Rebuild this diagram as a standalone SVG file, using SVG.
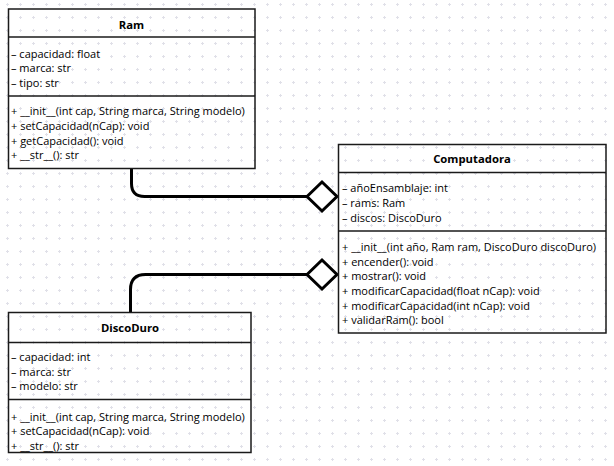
<svg xmlns="http://www.w3.org/2000/svg" width="614" height="466" viewBox="0 0 614 466">
  <defs>
    <pattern id="grid" patternUnits="userSpaceOnUse" x="0" y="0" width="13" height="13">
      <path d="M6 4.5h3M7.5 3v3" stroke="#e0e0e8" stroke-width="1"/>
    </pattern>
    <style>
      .box { fill: none; stroke: #1a1a1a; stroke-width: 1.5; }
      .sep { stroke: #1a1a1a; stroke-width: 1.5; }
      .title { font-family: "Open Sans", "Noto Sans", sans-serif; font-size: 11.3px; font-weight: bold; fill: #000; text-anchor: middle; dominant-baseline: central; }
      .member { font-family: "Open Sans", "Noto Sans", sans-serif; font-size: 11px; fill: #000; dominant-baseline: central; }
      .link { fill: none; stroke: #000; stroke-width: 3; }
      .diamond { fill: #fff; stroke: #000; stroke-width: 3; stroke-linejoin: miter; }
    </style>
  </defs>

  <rect width="614" height="466" fill="#fff"/>
  <rect width="614" height="466" fill="url(#grid)"/>

  <!-- aggregation connectors -->
  <g id="connectors">
    <path class="link" d="M131.5 168.5V183.5Q131.5 196.5 144.5 196.5H307"/>
    <polygon class="diamond" points="307,196.5 322,182 337,196.5 322,211"/>
    <path class="link" d="M130.5 312.5V289.5Q130.5 274.5 145.5 274.5H307"/>
    <polygon class="diamond" points="307,274.5 322,260 337,274.5 322,289"/>
  </g>

  <g id="ram">
    <rect class="box" x="8.5" y="9" width="246.5" height="159.5"/>
    <line class="sep" x1="8.5" y1="37" x2="255" y2="37"/>
    <line class="sep" x1="8.5" y1="96" x2="255" y2="96"/>
    <text class="title" x="131.5" y="24">Ram</text>
    <text class="member" x="11" y="53">– capacidad: float</text>
    <text class="member" x="11" y="67.5">– marca: str</text>
    <text class="member" x="11" y="82">– tipo: str</text>
    <text class="member" x="11" y="110.5">+ __init__(int cap, String marca, String modelo)</text>
    <text class="member" x="11" y="125.5">+ setCapacidad(nCap): void</text>
    <text class="member" x="11" y="140">+ getCapacidad(): void</text>
    <text class="member" x="11" y="154.5">+ __str__(): str</text>
  </g>

  <g id="computadora">
    <rect class="box" x="338.5" y="144.5" width="267.5" height="188.5"/>
    <line class="sep" x1="338.5" y1="172.5" x2="606" y2="172.5"/>
    <line class="sep" x1="338.5" y1="231" x2="606" y2="231"/>
    <text class="title" x="472" y="158.5">Computadora</text>
    <text class="member" x="342" y="187.5">– añoEnsamblaje: int</text>
    <text class="member" x="342" y="202">– rams: Ram</text>
    <text class="member" x="342" y="217">– discos: DiscoDuro</text>
    <text class="member" x="342" y="246.5">+ __init__(int año, Ram ram, DiscoDuro discoDuro)</text>
    <text class="member" x="342" y="261">+ encender(): void</text>
    <text class="member" x="342" y="275.5">+ mostrar(): void</text>
    <text class="member" x="342" y="290">+ modificarCapacidad(float nCap): void</text>
    <text class="member" x="342" y="305">+ modificarCapacidad(int nCap): void</text>
    <text class="member" x="342" y="319.5">+ validarRam(): bool</text>
  </g>

  <g id="discoduro">
    <rect class="box" x="8.5" y="312.5" width="242.5" height="140"/>
    <line class="sep" x1="8.5" y1="342.5" x2="251" y2="342.5"/>
    <line class="sep" x1="8.5" y1="399.5" x2="251" y2="399.5"/>
    <text class="title" x="130" y="327.5">DiscoDuro</text>
    <text class="member" x="11" y="356.5">– capacidad: int</text>
    <text class="member" x="11" y="371">– marca: str</text>
    <text class="member" x="11" y="385.5">– modelo: str</text>
    <text class="member" x="11" y="416.5">+ __init__(int cap, String marca, String modelo)</text>
    <text class="member" x="11" y="430.5">+ setCapacidad(nCap): void</text>
    <text class="member" x="11" y="445">+ __str__(): str</text>
  </g>
</svg>
